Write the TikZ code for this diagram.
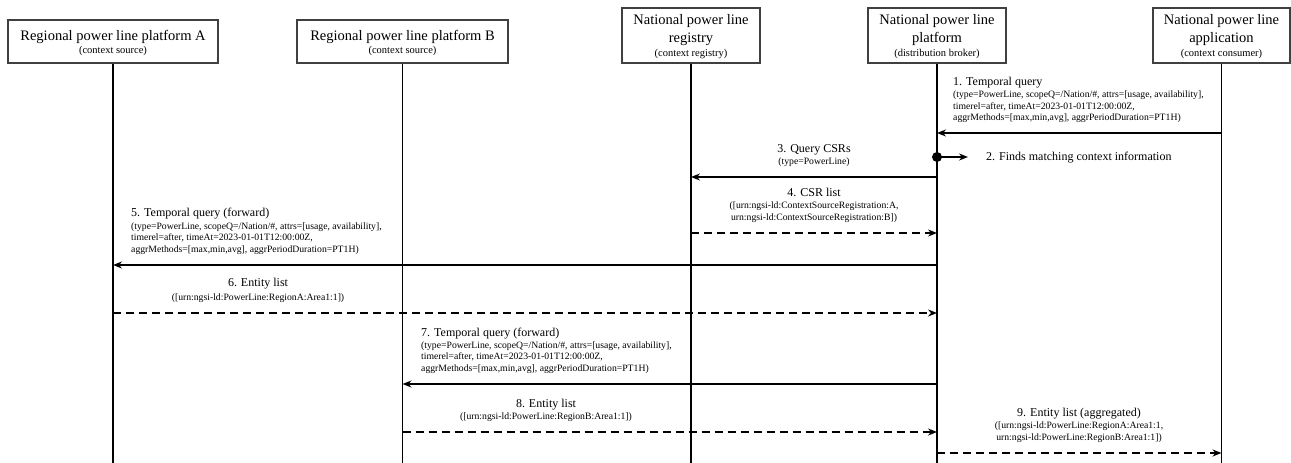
\documentclass[tikz,border=0pt]{standalone}
\usepackage{fontspec}
\setmainfont{Liberation Serif}
\usetikzlibrary{arrows.meta}
\newcommand\hdtitlefont{\fontsize{14.5}{18}\selectfont}
\newcommand\hdsubfont{\fontsize{10.5}{13}\selectfont}
\newcommand\msgtitlefont{\fontsize{12}{14}\selectfont}
\newcommand\msgdetailfont{\fontsize{9.7}{11.5}\selectfont}
\newcommand\mylines[2]{\begin{tabular}[t]{@{}#1@{}}#2\end{tabular}}
\begin{document}
\begin{tikzpicture}[x=1pt,y=-1pt,
  hbox/.style={draw=black!75, line width=1.3pt, inner sep=0pt},
  htxt/.style={inner sep=0pt, anchor=base, font=\hdtitlefont},
  hsub/.style={inner sep=0pt, anchor=base, font=\hdsubfont},
  life/.style={line width=1.8pt},
  msg/.style={line width=1.6pt, -{Stealth[length=9pt,width=7pt,inset=3pt]}},
  reply/.style={msg, dash pattern=on 8pt off 5pt},
  mt/.style={inner sep=0pt, font=\msgtitlefont},
  md/.style={inner sep=0pt, font=\msgdetailfont},
]
\useasboundingbox (0,0) rectangle (1291,463);

% header boxes
\node[hbox, minimum width=210pt, minimum height=43pt] (A) at (113,41.5) {};
\node[htxt] (At) at (113,40.5) {Regional power line platform A};
\node[hsub] (As) at (113,53) {(context source)};

\node[hbox, minimum width=211pt, minimum height=43pt] (B) at (402.5,41.5) {};
\node[htxt] (Bt) at (402.5,40.5) {Regional power line platform B};
\node[hsub] (Bs) at (402.5,53) {(context source)};

\node[hbox, minimum width=138pt, minimum height=55pt] (R) at (691,35.5) {};
\node[htxt] (Rt1) at (691,24.5) {National power line};
\node[htxt] (Rt2) at (691,42.5) {registry};
\node[hsub] (Rs) at (691,56) {(context registry)};

\node[hbox, minimum width=138pt, minimum height=55pt] (P) at (937,35.5) {};
\node[htxt] (Pt1) at (937,24.5) {National power line};
\node[htxt] (Pt2) at (937,42.5) {platform};
\node[hsub] (Ps) at (937,56) {(distribution broker)};

\node[hbox, minimum width=137pt, minimum height=55pt] (C) at (1221.5,35.5) {};
\node[htxt] (Ct1) at (1221.5,24.5) {National power line};
\node[htxt] (Ct2) at (1221.5,42.5) {application};
\node[hsub] (Cs) at (1221.5,56) {(context consumer)};

% lifelines
\coordinate (Aend) at (113,463);
\coordinate (Bend) at (402.5,463);
\coordinate (Rend) at (691,463);
\coordinate (Pend) at (937,463);
\coordinate (Cend) at (1221.5,463);
\draw[life] (A.south) -- (Aend);
\draw[life] (B.south) -- (Bend);
\draw[life] (R.south) -- (Rend);
\draw[life] (P.south) -- (Pend);
\draw[life] (C.south) -- (Cend);

% 1
\coordinate (m1a) at (1221.5,133);
\coordinate (m1b) at (937,133);
\draw[msg] (m1a) -- (m1b);
\node[mt, anchor=base west] (m1t) at (953,85) {1. Temporal query};
\node[md, anchor=base west] (m1d) at (953,97.5) {\mylines{l}{(type=PowerLine, scopeQ=/Nation/\#, attrs=[usage, availability],\\ timerel=after, timeAt=2023-01-01T12:00:00Z,\\ aggrMethods=[max,min,avg], aggrPeriodDuration=PT1H)}};

% 2
\node[circle, fill, inner sep=0pt, minimum size=10pt] (dot) at (937,157) {};
\coordinate (m2e) at (968,157);
\draw[msg] (dot.center) -- (m2e);
\node[mt, anchor=base west] (m2t) at (986,160.6) {2. Finds matching context information};

% 3
\coordinate (m3a) at (937,177);
\coordinate (m3b) at (691,177);
\draw[msg] (m3a) -- (m3b);
\node[mt, anchor=base] (m3t) at (814,152) {3. Query CSRs};
\node[md, anchor=base] (m3d) at (814,164.4) {(type=PowerLine)};

% 4
\coordinate (m4a) at (691,233);
\coordinate (m4b) at (937,233);
\draw[reply] (m4a) -- (m4b);
\node[mt, anchor=base] (m4t) at (814,196.6) {4. CSR list};
\node[md, anchor=base] (m4d) at (814,208.9) {\mylines{c}{([urn:ngsi-ld:ContextSourceRegistration:A,\\ urn:ngsi-ld:ContextSourceRegistration:B])}};

% 5
\coordinate (m5a) at (937,265);
\coordinate (m5b) at (113,265);
\draw[msg] (m5a) -- (m5b);
\node[mt, anchor=base west] (m5t) at (131,216) {5. Temporal query (forward)};
\node[md, anchor=base west] (m5d) at (131,229.4) {\mylines{l}{(type=PowerLine, scopeQ=/Nation/\#, attrs=[usage, availability],\\ timerel=after, timeAt=2023-01-01T12:00:00Z,\\ aggrMethods=[max,min,avg], aggrPeriodDuration=PT1H)}};

% 6
\coordinate (m6a) at (113,313);
\coordinate (m6b) at (937,313);
\draw[reply] (m6a) -- (m6b);
\node[mt, anchor=base] (m6t) at (258,286.6) {6. Entity list};
\node[md, anchor=base] (m6d) at (258,300.4) {([urn:ngsi-ld:PowerLine:RegionA:Area1:1])};

% 7
\coordinate (m7a) at (937,384);
\coordinate (m7b) at (402.5,384);
\draw[msg] (m7a) -- (m7b);
\node[mt, anchor=base west] (m7t) at (421,336) {7. Temporal query (forward)};
\node[md, anchor=base west] (m7d) at (421,348.4) {\mylines{l}{(type=PowerLine, scopeQ=/Nation/\#, attrs=[usage, availability],\\ timerel=after, timeAt=2023-01-01T12:00:00Z,\\ aggrMethods=[max,min,avg], aggrPeriodDuration=PT1H)}};

% 8
\coordinate (m8a) at (402.5,432);
\coordinate (m8b) at (937,432);
\draw[reply] (m8a) -- (m8b);
\node[mt, anchor=base] (m8t) at (546,407) {8. Entity list};
\node[md, anchor=base] (m8d) at (546,419.4) {([urn:ngsi-ld:PowerLine:RegionB:Area1:1])};

% 9
\coordinate (m9a) at (937,453);
\coordinate (m9b) at (1221.5,453);
\draw[reply] (m9a) -- (m9b);
\node[mt, anchor=base] (m9t) at (1079,416.6) {9. Entity list (aggregated)};
\node[md, anchor=base] (m9d) at (1079,428.9) {\mylines{c}{([urn:ngsi-ld:PowerLine:RegionA:Area1:1,\\ urn:ngsi-ld:PowerLine:RegionB:Area1:1])}};
\end{tikzpicture}
\end{document}
